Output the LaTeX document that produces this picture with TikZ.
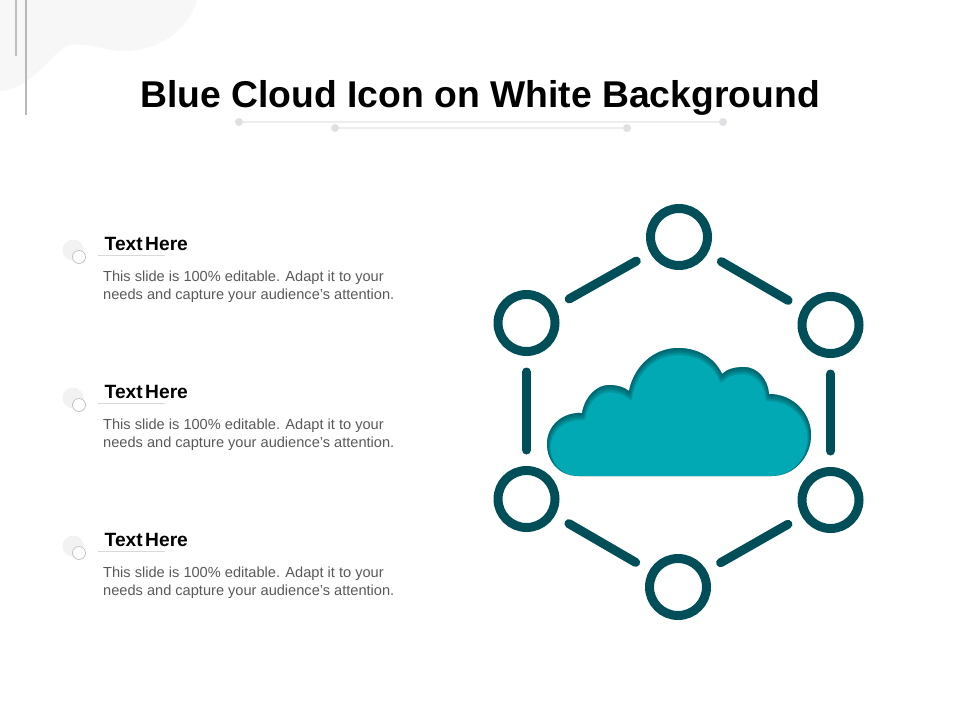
\documentclass[tikz,border=0pt]{standalone}
\usepackage{fontspec}
\setmainfont{Liberation Sans}
\definecolor{ringcol}{HTML}{004F58}
\definecolor{cloudcol}{HTML}{00A9B3}
\definecolor{shadecol}{HTML}{00454D}
\definecolor{blobcol}{HTML}{F7F7F7}
\definecolor{dotcol}{HTML}{DFE0E4}
\definecolor{rulecol}{HTML}{EDEDED}
\newcommand{\cloudpath}{(578,476) .. controls (559,476) and (547,461) .. (547,444)
  .. controls (547,426) and (562,412) .. (582,413)
  .. controls (585,396) and (597,385) .. (609,385)
  .. controls (617,385) and (624,387) .. (629,391)
  .. controls (634,366) and (654,348) .. (678,348)
  .. controls (698,348) and (715,358) .. (722,374)
  .. controls (727,369) and (735,367) .. (744,367)
  .. controls (757,367) and (768,379) .. (769,394)
  .. controls (793,394) and (811,413) .. (811,435)
  .. controls (811,458) and (793,476) .. (772,476) -- cycle}
\tikzset{
  ring/.style={draw=ringcol,circle,line width=9pt,minimum size=57pt,inner sep=0pt},
  link/.style={draw=ringcol,line width=9pt,line cap=round,shorten >=16pt,shorten <=16pt},
  headdot/.style={fill=dotcol,circle,inner sep=0pt,minimum size=8pt},
  headrule/.style={draw=rulecol,line width=1.4pt},
  blob/.style={fill=black!5,circle,inner sep=0pt,minimum size=21pt},
  smallring/.style={draw=black!25,fill=white,circle,line width=.7pt,inner sep=0pt,minimum size=13pt},
  heading/.style={anchor=base west,inner sep=0pt,font=\fontsize{19.2}{21}\selectfont\bfseries},
  bodytext/.style={anchor=north west,inner sep=0pt,align=left,text=black!65,font=\fontsize{14.6}{18}\selectfont}
}
\begin{document}
\begin{tikzpicture}[x=1pt,y=-1pt]
  \useasboundingbox (0,0) rectangle (960,720);
  \fill[blobcol] (0,0) -- (197,0) .. controls (190,25) and (165,50) .. (125,51)
    .. controls (105,51) and (85,42) .. (70,45) .. controls (50,52) and (35,88) .. (0,91) -- cycle;
  \draw[black!25,line width=1.3pt] (16,0) -- (16,56);
  \draw[black!28,line width=1.3pt] (26,0) -- (26,115);

  \node[anchor=base,inner sep=0pt,font=\fontsize{37.3}{40}\selectfont\bfseries] (title) at (480,107) {Blue Cloud Icon on White Background};
  \node[headdot] (dota) at (239,122) {};
  \node[headdot] (dotb) at (723,122) {};
  \node[headdot] (dotc) at (335,128) {};
  \node[headdot] (dotd) at (627,128) {};
  \draw[headrule] (dota) -- (dotb);
  \draw[headrule] (dotc) -- (dotd);

  \foreach \nm/\yy in {one/250,two/398,three/546}{
    \node[blob] (blob\nm) at (73,\yy) {};
    \node[smallring] (small\nm) at (79,\yy+7) {};
    \node[heading] (head\nm) at (104.5,\yy) {\spaceskip=2.5pt\relax Text Here};
    \coordinate (rulea\nm) at (98,\yy+5);
    \coordinate (ruleb\nm) at (165,\yy+5);
    \draw[black!15,line width=.7pt] (rulea\nm) -- (ruleb\nm);
    \node[bodytext] (body\nm) at (103,\yy+20.5) {This slide is 100\% editable. Adapt it to your\\needs and capture your audience's attention.};
  }

  \node[ring] (ringt) at (679,237) {};
  \node[ring] (ringul) at (526.5,323) {};
  \node[ring] (ringur) at (830.5,325) {};
  \node[ring] (ringll) at (526.5,499) {};
  \node[ring] (ringlr) at (830.5,500) {};
  \node[ring] (ringb) at (678,587) {};
  \draw[link] (ringt) -- (ringul);
  \draw[link] (ringt) -- (ringur);
  \draw[link] (ringul) -- (ringll);
  \draw[link] (ringur) -- (ringlr);
  \draw[link] (ringll) -- (ringb);
  \draw[link] (ringlr) -- (ringb);

  \fill[cloudcol] \cloudpath;
  \begin{scope}
    \clip \cloudpath;
    \foreach \sh in {3.6,2.6,1.7,.9}{
      \draw[shadecol,opacity=.22,line width=2*\sh pt,yshift=-\sh pt] \cloudpath;
    }
  \end{scope}
\end{tikzpicture}
\end{document}
